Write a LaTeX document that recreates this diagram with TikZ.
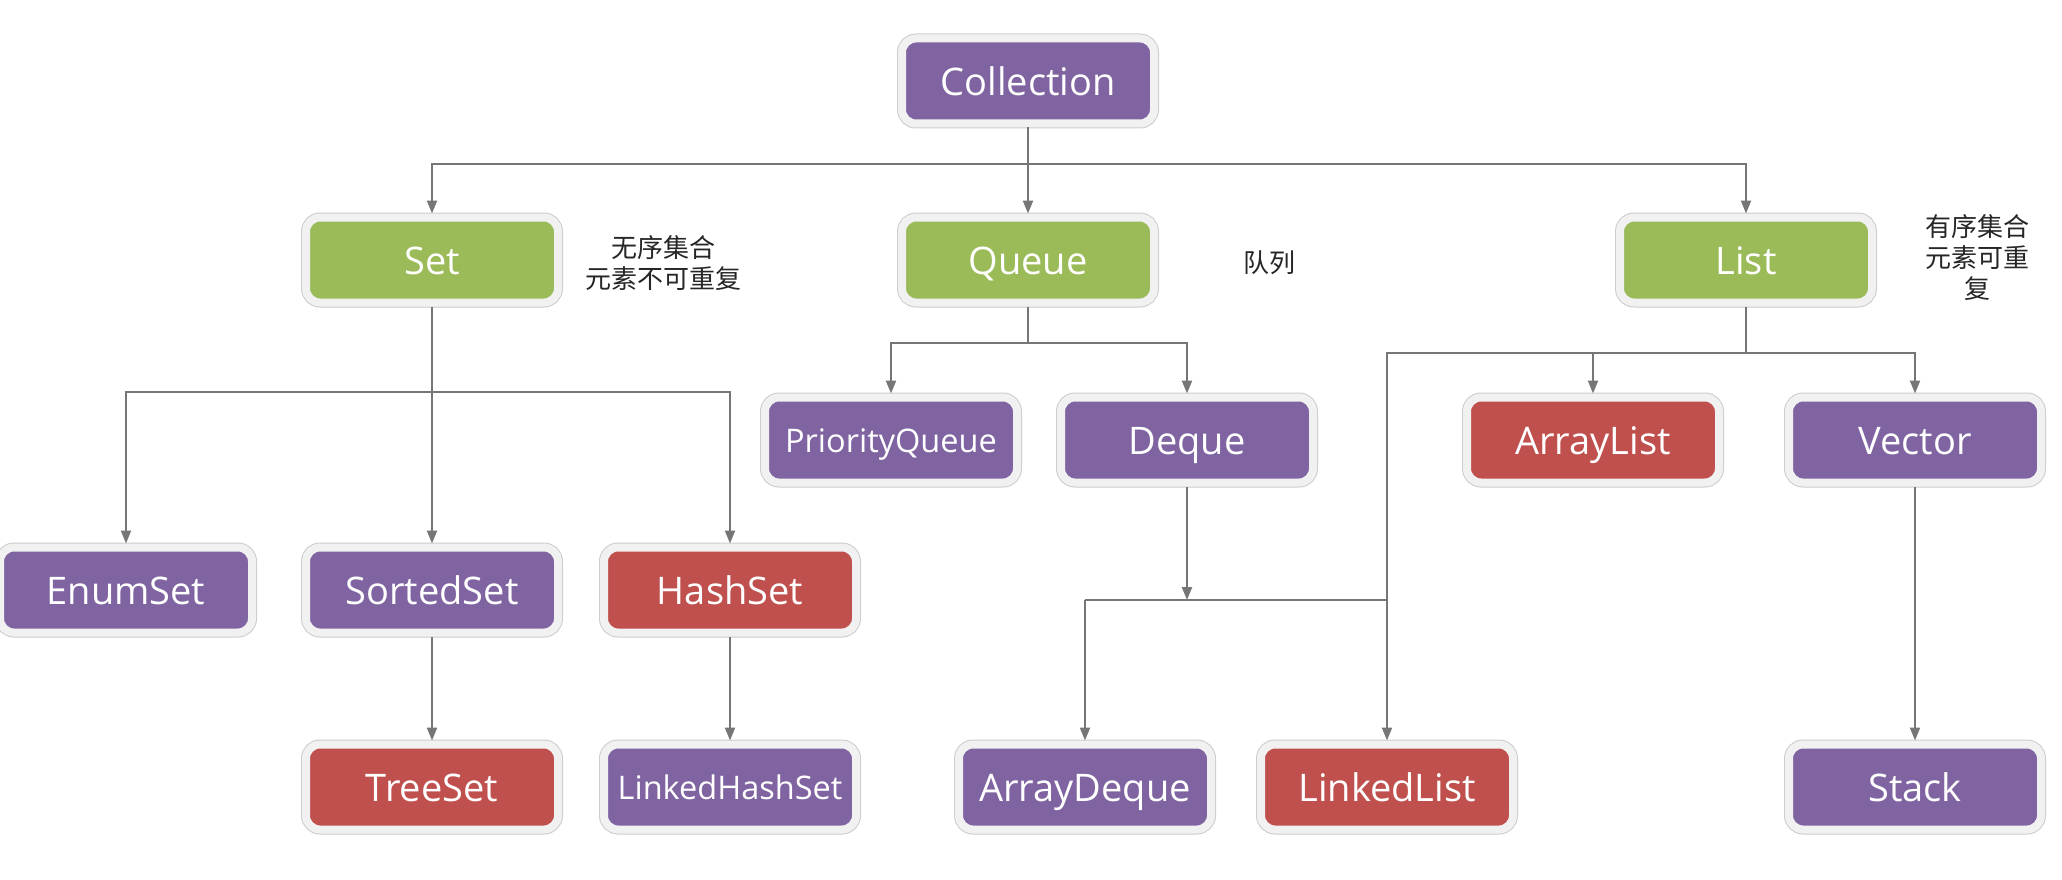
\documentclass[tikz,border=0pt]{standalone}
\usepackage{fontspec}
\setmainfont{Open Sans}
\newfontfamily\cjkfont{Noto Sans CJK SC}
\definecolor{jcPurple}{HTML}{8064A2}
\definecolor{jcGreen}{HTML}{9BBB59}
\definecolor{jcRed}{HTML}{C0504D}
\definecolor{jcShell}{HTML}{F1F1F1}
\definecolor{jcEdge}{HTML}{CCCCCC}
\definecolor{jcLine}{HTML}{767676}
\usetikzlibrary{arrows.meta, positioning}

\begin{document}
\begin{tikzpicture}[x=1pt, y=-1pt,
  cls/.style={rounded corners=14pt, fill=#1, draw=jcShell, line width=8pt,
    preaction={draw=jcEdge, line width=10pt},
    minimum width=252pt, minimum height=85pt, inner sep=0pt,
    text=white, text height=36pt, text depth=7pt,
    font=\fontsize{38}{40}\selectfont},
  small/.style={text height=31pt, text depth=7pt,
    font=\fontsize{32.5}{35}\selectfont},
  note/.style={font=\cjkfont\fontsize{26}{31}\selectfont, align=center,
    text=black!85},
  link/.style={draw=jcLine, line width=2.2pt},
  arr/.style={link, -{Triangle[width=10pt, length=13pt]}}]

  \path[use as bounding box, fill=white] (0,0) rectangle (2062,880);

  \node[cls=jcPurple] (coll) at (1028,81) {Collection};

  \node[cls=jcGreen] (set) at (432,260) {Set};
  \node[cls=jcGreen] (queue) at (1028,260) {Queue};
  \node[cls=jcGreen] (list) at (1746,260) {List};

  \node[cls=jcPurple, small] (pq) at (891,440) {PriorityQueue};
  \node[cls=jcPurple] (deque) at (1187,440) {Deque};
  \node[cls=jcRed] (alist) at (1593,440) {ArrayList};
  \node[cls=jcPurple] (vector) at (1915,440) {Vector};

  \node[cls=jcPurple] (enum) at (126,590) {EnumSet};
  \node[cls=jcPurple] (sorted) at (432,590) {SortedSet};
  \node[cls=jcRed] (hash) at (730,590) {HashSet};

  \node[cls=jcRed] (tree) at (432,787) {TreeSet};
  \node[cls=jcPurple, small] (lhs) at (730,787) {LinkedHashSet};
  \node[cls=jcPurple] (adeque) at (1085,787) {ArrayDeque};
  \node[cls=jcRed] (llist) at (1387,787) {LinkedList};
  \node[cls=jcPurple] (stack) at (1915,787) {Stack};

  \node[note] (setnote) at (663,263) {无序集合\\元素不可重复};
  \node[note] (queuenote) at (1269,263) {队列};
  \node[note] (listnote) at (1977,258) {有序集合\\元素可重\\复};

  \coordinate (j1) at (1028,164);
  \coordinate (j2) at (432,392);
  \coordinate (j3) at (1028,343);
  \coordinate (j4) at (1746,353);
  \coordinate (j5) at (1187,600);
  \coordinate (j6) at (1085,600);

  \draw[link] (coll) -- (j1);
  \draw[arr] (j1) -| (set.north);
  \draw[arr] (j1) -- (queue);
  \draw[arr] (j1) -| (list.north);

  \draw[link] (set) -- (j2);
  \draw[arr] (j2) -| (enum.north);
  \draw[arr] (j2) -- (sorted);
  \draw[arr] (j2) -| (hash.north);
  \draw[arr] (sorted) -- (tree);
  \draw[arr] (hash) -- (lhs);

  \draw[link] (queue) -- (j3);
  \draw[arr] (j3) -| (pq.north);
  \draw[arr] (j3) -| (deque.north);
  \draw[arr] (deque) -- (j5);
  \draw[link] (j6) -- (llist |- j6);
  \draw[arr] (j6) -- (adeque);

  \draw[link] (list) -- (j4);
  \draw[arr] (j4) -| (alist.north);
  \draw[arr] (j4) -| (vector.north);
  \draw[arr] (j4) -| (llist.north);
  \draw[arr] (vector) -- (stack);
\end{tikzpicture}
\end{document}
